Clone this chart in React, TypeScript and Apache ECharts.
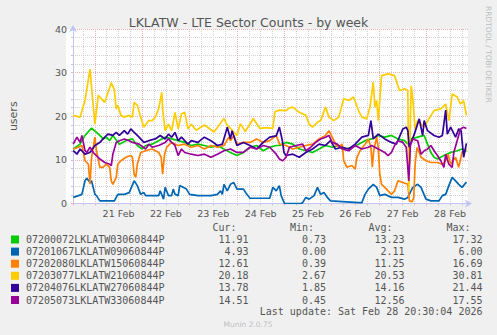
import React, { useEffect, useRef } from "react";
import * as echarts from "echarts";

const TITLE = "LKLATW - LTE Sector Counts - by week";
const Y_NAME = "users";
const dayLabels = ["21 Feb", "22 Feb", "23 Feb", "24 Feb", "25 Feb", "26 Feb", "27 Feb", "28 Feb"];
const seriesNames = [
  "07200072LKLATW03060844P",
  "07201067LKLATW09060844P",
  "07202080LKLATW15060844P",
  "07203077LKLATW21060844P",
  "07204076LKLATW27060844P",
  "07205073LKLATW33060844P",
];
const seriesColors = ["#00cc00", "#0066b3", "#ff8000", "#ffcc00", "#330099", "#990099"];
const curValues = ["11.91", "4.93", "12.61", "20.18", "13.78", "14.51"];
const minValues = ["0.73", "0.00", "0.39", "2.67", "1.85", "0.45"];
const avgValues = ["13.23", "2.11", "11.25", "20.53", "14.16", "12.56"];
const maxValues = ["17.32", "6.00", "16.69", "30.81", "21.44", "17.55"];
const LAST_UPDATE = "Last update: Sat Feb 28 20:30:04 2026";
const FOOTER = "Munin 2.0.75";
const SIDE_TEXT = "RRDTOOL / TOBI OETIKER";

// hours since 21 Feb 00:00, value
const green = [[-11,12.5],[-7.5,13.6],[-5,15.6],[-1.7,17.3],[0.8,16.3],[2.5,15.6],[4.1,14.8],[5.8,15.2],[7.5,14.4],[9.1,15.6],[12.4,13.6],[15.7,14.4],[19,14.8],[21.5,13.3],[24,12.5],[25.7,13.3],[29,13.6],[32.3,14.4],[35.6,15.2],[38.9,14.8],[42.2,14.4],[45.5,14.0],[48.8,13.3],[52.2,13.6],[55.5,13.3],[58.8,12.9],[62.1,13.3],[65.4,12.5],[68.7,11.7],[72,11.0],[75.3,11.7],[78.6,12.9],[82,13.3],[85.3,12.1],[88.6,12.9],[91.9,13.3],[93.6,13.3],[96.9,14.0],[100.3,13.6],[103.6,12.5],[106.9,12.1],[110.3,11.7],[113.6,12.5],[116.9,13.3],[120.3,12.9],[123.6,13.3],[126.9,12.5],[130.3,12.9],[133.6,13.6],[136.9,14.4],[140.3,14.8],[143.6,15.6],[146.9,15.2],[150.3,15.6],[153.6,14.8],[156.9,14.4],[158.6,13.6],[160.3,14.8],[163.6,15.2],[166.9,15.6],[168.6,13.6],[170.3,11.7],[171.9,10.6],[173.6,10.2],[176.9,11.0],[180.3,11.7],[183.6,12.1],[186.1,12.5],[188.3,11.9]];
const blue = [[-11,1.4],[-8.3,1.8],[-6.6,2.1],[-5,5.2],[-4.1,5.8],[-2.5,4.8],[-1.7,5.2],[0,2.1],[0.8,1.8],[2.5,0.6],[9.9,0.6],[11.6,2.1],[14.9,2.1],[17.4,2.5],[19.9,5.2],[21.5,4.1],[23.2,2.1],[24.8,2.5],[25.7,1.8],[32.3,1.8],[33.1,2.9],[34.8,1.0],[35.6,3.7],[37.3,1.8],[38.9,1.8],[39.7,3.3],[40.6,2.1],[42.2,1.8],[43,4.1],[44.7,3.7],[46.4,3.3],[48,2.1],[52.2,1.8],[58.8,1.8],[62.1,2.1],[63.7,2.9],[64.6,2.1],[65.4,4.4],[67.1,2.9],[68.7,4.4],[70.4,4.8],[72,3.3],[75.3,3.3],[77,2.1],[78.6,1.2],[88.6,1.2],[90.2,3.7],[91.9,2.9],[93.5,4.1],[94.4,1.8],[96.1,0],[104.4,0],[105.3,0.2],[106.9,1.4],[108.6,1.0],[111.1,1.8],[112.8,3.7],[114.4,2.1],[116.1,2.5],[117.8,1.4],[119.4,0.6],[133.6,0.2],[135.3,0.2],[136.9,2.1],[138.6,3.3],[141.1,4.4],[142.8,3.7],[144.4,1.8],[146.9,2.1],[150.3,1.4],[153.6,1.4],[156.9,1.0],[158.6,1.4],[161.1,3.7],[163.6,4.4],[165.3,3.7],[167.8,1.0],[170.3,0.6],[174.4,0.6],[176.1,1.8],[177.8,2.1],[179.4,4.1],[181.1,6.0],[182.8,5.2],[184.4,4.4],[186.1,3.7],[188.3,4.9]];
const orange = [[-11,12.5],[-8.3,12.9],[-6.6,13.3],[-5,9.8],[-3.3,9.0],[-2.5,4.4],[-1.7,10.5],[-0.8,12.9],[0,15.2],[0.8,12.1],[2.5,8.3],[4.1,8.3],[5.8,9.0],[7.5,8.3],[8.3,5.2],[9.1,4.4],[10.8,6.0],[11.6,9.0],[13.2,9.8],[15.7,10.6],[18.2,11.0],[19,10.6],[19.9,6.7],[20.7,6.0],[21.5,9.0],[23.2,11.7],[25.7,12.1],[29,12.5],[32.3,11.7],[33.6,10.6],[34.3,6.7],[35.3,11.3],[36.4,12.9],[38.9,14.0],[42.2,13.3],[45.5,13.6],[48.8,12.9],[52.2,13.3],[55.5,12.5],[58.8,13.3],[62.1,12.9],[65.4,13.3],[67.9,15.2],[68.7,14.4],[70.4,15.6],[72,13.6],[75.3,14.0],[78.6,14.0],[82,14.8],[85.3,14.0],[88.6,14.4],[91.9,15.6],[93.6,13.6],[96.9,13.3],[100.3,12.5],[103.6,12.9],[106.9,13.3],[110.3,13.6],[113.6,14.8],[116.9,15.6],[118.6,16.7],[120.3,15.2],[121.9,13.6],[123.6,12.9],[125.3,13.6],[126.1,9.8],[127.8,8.3],[130.3,8.7],[131.9,7.9],[132.8,10.6],[134.4,12.1],[136.9,13.6],[138.6,14.8],[139.9,12.9],[140.6,8.3],[141.3,12.1],[142.8,15.2],[143.6,12.9],[144.4,6.7],[145.3,4.4],[146.9,3.7],[148.6,2.9],[150.3,2.1],[151.9,2.9],[153.6,5.2],[156.1,4.8],[158.6,4.4],[159.4,0.6],[160.8,0.4],[161.6,1.4],[162.3,9.0],[163.3,12.9],[165.3,10.6],[167.8,9.8],[170.3,9.4],[173.6,9.4],[176.1,9.0],[177.8,9.8],[179,11.3],[180.3,9.0],[182.8,10.6],[184.4,8.3],[186.1,11.7],[188.3,12.6]];
const yellow = [[-11,20.2],[-7.5,19.8],[-5,23.6],[-2.5,30.8],[0,18.2],[1.7,24.8],[3.3,24.0],[5,23.2],[8.3,27.7],[9.9,26.0],[10.8,21.7],[11.6,22.5],[13.2,20.2],[14.9,19.8],[17.1,20.2],[19,19.8],[19.9,23.2],[21.5,22.5],[23.2,19.8],[24.8,17.5],[27.3,19.0],[29,19.0],[30.6,19.8],[32.3,21.7],[33.9,25.5],[34.4,21.3],[35.6,16.7],[37.3,18.2],[38.9,16.7],[40.6,20.9],[42.2,17.1],[43.9,20.5],[45.5,20.9],[47.2,17.1],[48.8,18.2],[51.3,16.8],[55.5,18.0],[60.4,16.4],[65.4,19.5],[67.1,17.9],[68.7,17.2],[72,15.6],[73.7,18.3],[76.2,16.5],[80.3,19.5],[83.6,17.2],[86.9,17.4],[90.2,17.2],[91.2,21.0],[93.5,21.4],[96.9,21.3],[98.5,21.9],[100.3,22.1],[103.6,20.9],[106.9,20.2],[108.6,18.2],[110.3,17.5],[112.8,18.6],[114.4,19.0],[116.9,22.1],[118.6,19.8],[121.1,19.0],[123.6,19.8],[126.1,24.0],[128.6,23.6],[131.1,24.4],[133.6,21.3],[135.3,19.8],[137.8,19.4],[139.4,22.1],[141.1,27.8],[141.9,22.1],[142.8,23.6],[143.6,19.0],[145.3,29.3],[148.6,29.7],[151.9,29.3],[154.4,25.9],[156.9,26.3],[158.6,25.9],[159.1,2.7],[160.3,27.0],[161.1,24.0],[162.3,17.1],[163.6,19.0],[166.9,17.5],[169.4,19.5],[171.9,21.3],[175.3,21.7],[177.8,22.8],[179.4,19.0],[181.1,25.1],[183.6,24.4],[185.3,22.8],[186.9,23.6],[188.3,20.2]];
const darkBlue = [[-11,12.1],[-9.1,11.3],[-7.5,12.5],[-5,11.3],[-2.5,11.7],[0,13.3],[2.5,14.0],[5,15.2],[6.6,15.9],[9.1,15.6],[10.8,16.3],[12.4,15.6],[14.9,16.7],[16.6,15.9],[18.2,17.1],[19.9,16.3],[21.5,15.6],[23.2,14.8],[24.8,14.0],[27.3,14.4],[30.6,14.8],[33.1,15.6],[35.6,14.8],[37.3,15.9],[38.9,15.2],[40.6,16.3],[42.2,14.4],[43.9,15.2],[45.5,14.4],[47.2,13.6],[48.8,14.4],[52.2,14.0],[55.5,15.2],[58.8,14.4],[62.1,13.3],[64.6,13.6],[67.1,17.5],[68.7,14.8],[69.5,16.7],[72,13.3],[75.3,14.0],[78.6,13.3],[82,12.5],[85.3,14.0],[88.6,15.2],[91.9,15.5],[93.5,17.5],[95,14.4],[95.8,11.7],[96.9,11.0],[100.3,11.3],[103.6,10.6],[106.9,11.7],[110.3,12.5],[113.6,13.6],[116.9,13.3],[119.4,14.4],[121.9,12.5],[125.3,12.9],[128.6,12.5],[131.9,13.6],[135.3,15.2],[138.6,15.6],[139.9,19.0],[141.1,14.8],[143.6,15.9],[146.9,14.8],[150.3,14.0],[152.8,13.6],[156.1,17.1],[157.8,17.5],[158.6,16.7],[159.3,12.9],[161.9,15.9],[164.4,19.4],[166.1,15.6],[166.9,19.0],[168.6,16.7],[171.9,15.6],[174.4,15.2],[176.1,15.6],[177.8,21.4],[178.6,15.9],[180.3,17.5],[182.8,15.2],[184.4,17.1],[185.6,16.7],[186.9,10.6],[188.3,13.8]];
const purple = [[-11,13.6],[-9.1,15.2],[-7.5,14.0],[-6.6,15.6],[-5,12.1],[-4.1,11.7],[-2.5,12.9],[-0.8,11.7],[0,11.3],[2.5,10.2],[5,9.4],[7.5,9.0],[8.3,8.7],[9.1,11.3],[10.8,14.0],[12.4,14.4],[14.9,14.8],[17.4,14.4],[19,14.0],[22.4,13.6],[25.7,12.5],[27.3,13.6],[29,12.9],[32.3,13.3],[35.6,14.0],[37.3,14.8],[38.9,14.0],[40.6,13.3],[42.2,11.0],[43.9,12.5],[45.5,11.7],[48.8,11.3],[52.2,11.0],[55.5,11.3],[58.8,10.6],[62.1,11.3],[65.4,12.1],[68.7,12.5],[72,11.7],[75.3,11.7],[78.6,12.9],[82,12.5],[85.3,13.3],[88.6,12.9],[91.9,11.3],[93.5,10.2],[95.2,9.8],[96.9,10.6],[98.6,12.9],[101.9,13.3],[105.3,13.6],[106.9,12.1],[109.4,12.9],[111.9,14.0],[114.4,14.8],[116.9,15.2],[118.6,15.6],[120.3,14.0],[122.8,13.6],[125.3,12.5],[128.6,12.1],[131.9,13.3],[135.3,12.5],[138.6,12.9],[140.3,13.3],[141.9,12.9],[143.6,12.5],[146.9,11.7],[148.6,11.0],[150.3,11.7],[151.9,13.3],[153.6,14.4],[156.1,14.0],[157.8,12.9],[159.1,5.2],[159.9,13.3],[161.1,14.8],[163.6,14.4],[165.3,11.3],[166.9,12.1],[168.6,12.5],[170.3,13.3],[171.9,12.1],[173.6,11.0],[175.3,9.8],[176.9,8.3],[177.8,11.3],[179.4,9.0],[181.1,8.3],[181.9,11.7],[183.6,14.4],[185.3,17.1],[186.9,17.5],[188.3,17.2]];

const seriesData = [green, blue, orange, yellow, darkBlue, purple];

// axis extent in days since 21 Feb 00:00
const X_MIN = -11.1 / 24;
const X_MAX = 189.1 / 24;

const AXIS_BLUE = "#c4c4f4";
const MAJOR = "#eeb2b2";
const MINOR = "#d2d2d2";
const TEXT = "#555555";
const SANS = "'DejaVu Sans', sans-serif";
const MONO = "'DejaVu Sans Mono', monospace";

const GRID_LEFT = 66;
const GRID_TOP = 29;
const GRID_RIGHT = 29;
const GRID_BOTTOM = 131.5;

export default function App() {
  const ref = useRef<HTMLDivElement>(null);
  useEffect(() => {
    if (!ref.current) return;
    const chart = echarts.init(ref.current, null, { renderer: "svg" });

    const graphic: any[] = [];
    // white plot background
    graphic.push({
      type: "rect", z: -100, silent: true,
      shape: { x: GRID_LEFT, y: GRID_TOP, width: 497 - GRID_LEFT - GRID_RIGHT, height: 335 - GRID_TOP - GRID_BOTTOM },
      style: { fill: "#ffffff" },
    });
    const rowY0 = 239.5;
    const rowH = 12.1;
    const colRight = [248.5, 326, 404.5, 482.5];
    const headers = ["Cur:", "Min:", "Avg:", "Max:"];
    headers.forEach((h, j) => {
      graphic.push({
        type: "text", x: colRight[j] - 12, y: rowY0 - rowH,
        style: { text: h, fill: TEXT, font: `10px ${MONO}`, align: "right", verticalAlign: "middle" },
      });
    });
    const cols = [curValues, minValues, avgValues, maxValues];
    seriesNames.forEach((n, i) => {
      const y = rowY0 + i * rowH;
      graphic.push({ type: "rect", shape: { x: 11, y: y - 4, width: 8, height: 8 }, style: { fill: seriesColors[i] } });
      graphic.push({
        type: "text", x: 26, y,
        style: { text: n, fill: TEXT, font: `10px ${MONO}`, align: "left", verticalAlign: "middle" },
      });
      cols.forEach((c, j) => {
        graphic.push({
          type: "text", x: colRight[j], y,
          style: { text: c[i], fill: TEXT, font: `10px ${MONO}`, align: "right", verticalAlign: "middle" },
        });
      });
    });
    graphic.push({
      type: "text", x: colRight[3], y: rowY0 + 6 * rowH - 0.5,
      style: { text: LAST_UPDATE, fill: TEXT, font: `10px ${MONO}`, align: "right", verticalAlign: "middle" },
    });
    graphic.push({
      type: "text", x: 248, y: 324.5,
      style: { text: FOOTER, fill: "#c0c0c0", font: `7.5px ${SANS}`, align: "center", verticalAlign: "middle" },
    });
    graphic.push({
      type: "text", x: 488, y: 6, rotation: -Math.PI / 2,
      style: { text: SIDE_TEXT, fill: "#bdbdbd", font: `7.5px ${SANS}`, align: "left", verticalAlign: "middle" },
    });

    chart.setOption({
      animation: false,
      backgroundColor: "#f0f0f0",
      title: {
        text: TITLE, left: "center", top: 11,
        textStyle: { fontSize: 12.5, fontWeight: "normal", color: TEXT, fontFamily: SANS },
      },
      grid: { left: GRID_LEFT, right: GRID_RIGHT, top: GRID_TOP, bottom: GRID_BOTTOM, show: false },
      xAxis: [
        {
          type: "value", min: X_MIN, max: X_MAX, minInterval: 1, maxInterval: 1,
          axisLine: { show: true, onZero: false, lineStyle: { color: AXIS_BLUE, width: 1 }, symbol: ["none", "arrow"], symbolSize: [6, 7], symbolOffset: [0, 4] },
          axisTick: { show: true, length: 2, lineStyle: { color: MAJOR } },
          axisLabel: { show: false },
          splitLine: { show: true, showMinLine: false, showMaxLine: false, lineStyle: { color: MAJOR, type: [1, 1], width: 1 } },
          minorTick: { show: true, splitNumber: 4, length: 2, lineStyle: { color: "#c8c8c8" } },
          minorSplitLine: { show: true, lineStyle: { color: MINOR, type: [1, 1], width: 1 } },
        },
        {
          type: "value", min: X_MIN - 0.5, max: X_MAX - 0.5, minInterval: 1, maxInterval: 1,
          position: "bottom",
          axisLine: { show: false, onZero: false }, axisTick: { show: false }, splitLine: { show: false },
          axisLabel: {
            show: true, showMinLabel: false, showMaxLabel: false, margin: 5,
            color: TEXT, fontSize: 9.5, fontFamily: SANS,
            formatter: (v: number) => dayLabels[Math.round(v)] ?? "",
          },
        },
      ],
      yAxis: {
        type: "value", min: 0, max: 40, interval: 10,
        name: Y_NAME, nameLocation: "middle", nameGap: 54, nameRotate: 90,
        nameTextStyle: { color: TEXT, fontSize: 11, fontFamily: SANS },
        axisLine: { show: true, onZero: false, lineStyle: { color: AXIS_BLUE, width: 1 }, symbol: ["none", "arrow"], symbolSize: [6, 7], symbolOffset: [0, 4] },
        axisTick: { show: true, length: 2, lineStyle: { color: MAJOR } },
        axisLabel: { color: TEXT, fontSize: 9.5, fontFamily: SANS, margin: 6 },
        splitLine: { show: true, showMinLine: false, lineStyle: { color: MAJOR, type: [1, 1], width: 1 } },
        minorTick: { show: true, splitNumber: 5, length: 2, lineStyle: { color: "#c8c8c8" } },
        minorSplitLine: { show: true, lineStyle: { color: MINOR, type: [1, 1], width: 1 } },
      },
      series: seriesData.map((d, i) => ({
        type: "line",
        name: seriesNames[i],
        xAxisIndex: 0,
        yAxisIndex: 0,
        data: d.map(([h, v]) => [h / 24, v]),
        showSymbol: false,
        symbol: "none",
        silent: true,
        clip: true,
        lineStyle: { width: 1.7, color: seriesColors[i] },
        itemStyle: { color: seriesColors[i] },
      })),
      graphic,
    });
    return () => chart.dispose();
  }, []);
  return (
    <div
      ref={ref}
      style={{ position: "absolute", left: 0, top: 0, width: 497, height: 335, background: "#f0f0f0" }}
    />
  );
}
